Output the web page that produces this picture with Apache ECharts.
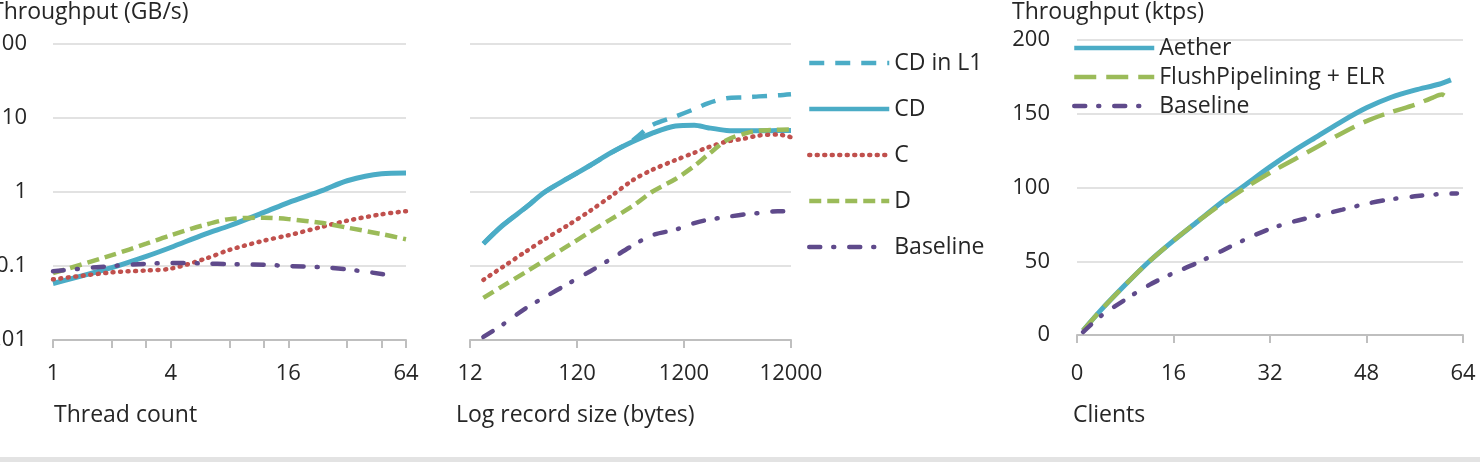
<!DOCTYPE html>
<html>
<head>
<meta charset="UTF-8">
<title>Throughput</title>
<script src="https://cdn.jsdelivr.net/npm/echarts@6.0.0/dist/echarts.min.js"></script>
<style>
  html, body { margin: 0; padding: 0; background: #fff; }
  #main { width: 1480px; height: 462px; }
</style>
</head>
<body>
<div id="main"></div>
<script>
// left panel: throughput (GB/s) vs thread count
const threads = [1, 2, 3, 4, 6, 8, 12, 16, 24, 32, 48, 64];
const threadsBase = [1, 2, 3, 4, 6, 8, 12, 16, 24, 32, 48, 56];
const thrCD = [0.058, 0.095, 0.135, 0.178, 0.27, 0.35, 0.53, 0.72, 1.05, 1.42, 1.76, 1.8];
const thrC = [0.066, 0.082, 0.087, 0.092, 0.125, 0.165, 0.22, 0.26, 0.34, 0.41, 0.5, 0.55];
const thrD = [0.08, 0.14, 0.2, 0.26, 0.36, 0.43, 0.45, 0.43, 0.38, 0.33, 0.27, 0.23];
const thrBase = [0.085, 0.1, 0.107, 0.11, 0.108, 0.106, 0.104, 0.1, 0.096, 0.09, 0.078, 0.072];
const threadTicks = [1, 2, 3, 4, 8, 12, 16, 32, 48, 64];
const threadLabels = [1, 4, 16, 64];

// middle panel: throughput (GB/s) vs log record size
const sizes = [16, 24, 40, 60, 100, 160, 250, 400, 600, 1000, 1500, 2000, 3000, 4500, 6000, 9000, 12000];
const sizeCDL1 = [0.2, 0.35, 0.62, 1.0, 1.55, 2.3, 3.4, 5.0, 8.0, 10.5, 13.2, 15.8, 18.5, 19.0, 19.6, 20.3, 21];
const sizeCD = [0.2, 0.35, 0.62, 1.0, 1.55, 2.3, 3.4, 4.8, 6.2, 7.8, 8.0, 7.4, 6.8, 6.7, 6.7, 6.8, 6.8];
const sizeC = [0.065, 0.096, 0.157, 0.23, 0.36, 0.56, 0.88, 1.45, 1.98, 2.7, 3.4, 4.0, 4.8, 5.3, 5.8, 6.0, 5.5];
const sizeD = [0.037, 0.053, 0.083, 0.12, 0.19, 0.29, 0.43, 0.65, 1.0, 1.5, 2.25, 3.17, 5.0, 6.2, 6.75, 6.95, 7.0];
const sizeBase = [0.011, 0.016, 0.027, 0.038, 0.058, 0.085, 0.125, 0.19, 0.26, 0.31, 0.38, 0.42, 0.46, 0.5, 0.52, 0.55, 0.55];
const sizeTicks = [12, 120, 1200, 12000];

// right panel: throughput (ktps) vs clients
const clientsA = [1, 4, 8, 12, 16, 20, 24, 28, 32, 36, 40, 44, 48, 52, 56, 60, 62];
const aether = [3, 17, 34, 50, 64, 77, 90, 102, 114, 125, 135, 145, 154, 161, 166, 170, 173];
const clientsF = [1, 4, 8, 12, 16, 20, 24, 28, 32, 36, 40, 44, 48, 52, 56, 59, 60.5, 62];
const flushElr = [3, 17, 34, 50, 64, 77, 89, 100, 110, 119, 128, 137, 145, 151, 156, 161, 163, 158];
const clientsB = [1, 4, 8, 12, 16, 20, 24, 28, 32, 36, 40, 44, 48, 52, 56, 60, 63];
const baseK = [2, 13, 24, 34, 42, 49, 57, 65, 72, 77, 81, 85, 89, 92, 94, 95.5, 96];

const BLUE = '#4BACC6', RED = '#C0504D', GREEN = '#9BBB59', PURPLE = '#5F4A8B';
const FONT = '"Open Sans", "Noto Sans", sans-serif';
const TXT = '#262626';

function pairs(xs, ys) {
    return xs.map(function (x, i) { return [x, ys[i]]; });
}

function line(name, idx, data, color, type, width, cap) {
    return {
        name: name,
        type: 'line',
        xAxisIndex: idx,
        yAxisIndex: idx,
        data: data,
        symbol: 'none',
        smooth: 0.3,
        color: color,
        lineStyle: { color: color, width: width || 4.5, type: type || 'solid', cap: cap || 'butt' }
    };
}

const DASH_L1 = [15, 11];
const DOT = [1, 6.5];
const DASH_D = [12, 6];
const DASH_F = [22, 10];
const DASH_DOT = [11, 13, 1, 15];

const xAxisBase = {
    axisLine: { show: true, lineStyle: { color: '#bfbfbf', width: 2 } },
    axisTick: { show: true, length: 8, lineStyle: { color: '#bfbfbf', width: 2 } },
    splitLine: { show: false },
    axisLabel: {
        fontSize: 22, color: TXT, fontFamily: FONT, margin: 23,
        formatter: function (v) { return String(v); }
    }
};
const splitGrey = { show: true, lineStyle: { color: '#d9d9d9', width: 1.5 } };
const legendText = { fontSize: 23, lineHeight: 24, color: TXT, fontFamily: FONT };

let myChart = echarts.init(document.getElementById('main'));
myChart.setOption({
    animation: false,
    backgroundColor: '#fff',
    grid: [
        { left: 53, top: 44, width: 353, height: 296, outerBoundsMode: 'none' },
        { left: 470, top: 44, width: 321, height: 296, outerBoundsMode: 'none' },
        { left: 1077, top: 40, width: 386, height: 295, outerBoundsMode: 'none' }
    ],
    xAxis: [
        Object.assign({}, xAxisBase, {
            gridIndex: 0, type: 'log', logBase: 2, min: 1, max: 64,
            axisTick: Object.assign({}, xAxisBase.axisTick, { customValues: threadTicks }),
            axisLabel: Object.assign({}, xAxisBase.axisLabel, { customValues: threadLabels })
        }),
        Object.assign({}, xAxisBase, {
            gridIndex: 1, type: 'log', logBase: 10, min: 12, max: 12000,
            axisTick: Object.assign({}, xAxisBase.axisTick, { customValues: sizeTicks }),
            axisLabel: Object.assign({}, xAxisBase.axisLabel, { customValues: sizeTicks })
        }),
        Object.assign({}, xAxisBase, {
            gridIndex: 2, type: 'value', min: 0, max: 64, interval: 16,
            axisLabel: Object.assign({}, xAxisBase.axisLabel, { margin: 28 })
        })
    ],
    yAxis: [
        {
            gridIndex: 0, type: 'log', logBase: 10, min: 0.01, max: 100,
            axisLine: { show: false }, axisTick: { show: false },
            splitLine: splitGrey,
            axisLabel: { fontSize: 22, color: TXT, fontFamily: FONT, margin: 26 }
        },
        {
            gridIndex: 1, type: 'log', logBase: 10, min: 0.01, max: 100,
            axisLine: { show: false }, axisTick: { show: false },
            splitLine: splitGrey,
            axisLabel: { show: false }
        },
        {
            gridIndex: 2, type: 'value', min: 0, max: 200, interval: 50,
            axisLine: { show: false }, axisTick: { show: false },
            splitLine: splitGrey,
            axisLabel: { fontSize: 22, color: TXT, fontFamily: FONT, margin: 27 }
        }
    ],
    legend: [
        {
            data: ['CD in L1', 'CD', 'C', 'D', 'Baseline'],
            orient: 'vertical', left: 807, top: 51, padding: 0,
            itemWidth: 80, itemHeight: 14, itemGap: 22,
            selectedMode: false,
            itemStyle: { opacity: 0 },
            lineStyle: { width: 4.5 },
            textStyle: legendText
        },
        {
            data: ['Aether', 'FlushPipelining + ELR', 'Baseline'],
            orient: 'vertical', left: 1072, top: 36, padding: 0,
            itemWidth: 80, itemHeight: 14, itemGap: 5,
            selectedMode: false,
            itemStyle: { opacity: 0 },
            lineStyle: { width: 4.5 },
            textStyle: legendText
        }
    ],
    graphic: [
        { type: 'text', left: -9, top: 1, style: { text: 'Throughput (GB/s)', font: '23px ' + FONT, fill: TXT } },
        { type: 'text', left: 1012, top: 1, style: { text: 'Throughput (ktps)', font: '23px ' + FONT, fill: TXT } },
        { type: 'text', left: 54, top: 404, style: { text: 'Thread count', font: '23px ' + FONT, fill: TXT } },
        { type: 'text', left: 456, top: 404, style: { text: 'Log record size (bytes)', font: '23px ' + FONT, fill: TXT } },
        { type: 'text', left: 1073, top: 404, style: { text: 'Clients', font: '23px ' + FONT, fill: TXT } },
        { type: 'rect', left: 0, top: 457, shape: { width: 1480, height: 5 }, style: { fill: '#e3e3e3' } }
    ],
    series: [
        line('CD', 0, pairs(threads, thrCD), BLUE, 'solid', 5),
        line('C', 0, pairs(threads, thrC), RED, DOT, 4.5, 'round'),
        line('D', 0, pairs(threads, thrD), GREEN, DASH_D),
        line('Baseline', 0, pairs(threadsBase, thrBase), PURPLE, DASH_DOT, 4.5, 'round'),

        line('CD in L1', 1, pairs(sizes, sizeCDL1), BLUE, DASH_L1),
        line('CD', 1, pairs(sizes, sizeCD), BLUE, 'solid', 5),
        line('C', 1, pairs(sizes, sizeC), RED, DOT, 4.5, 'round'),
        line('D', 1, pairs(sizes, sizeD), GREEN, DASH_D),
        line('Baseline', 1, pairs(sizes, sizeBase), PURPLE, DASH_DOT, 4.5, 'round'),

        line('Aether', 2, pairs(clientsA, aether), BLUE, 'solid', 5),
        line('FlushPipelining + ELR', 2, pairs(clientsF, flushElr), GREEN, DASH_F),
        line('Baseline', 2, pairs(clientsB, baseK), PURPLE, DASH_DOT, 4.5, 'round')
    ]
});
</script>
</body>
</html>
